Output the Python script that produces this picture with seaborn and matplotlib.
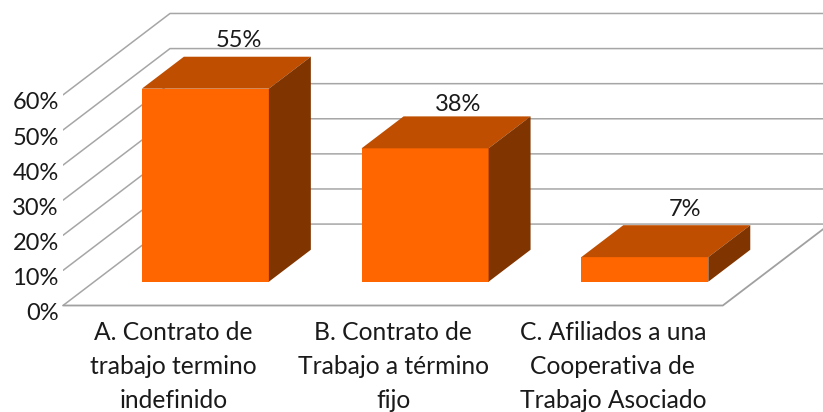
import pandas as pd
import seaborn as sns
import matplotlib.pyplot as plt
from matplotlib.patches import Polygon
from matplotlib.transforms import ScaledTranslation

categorias = ['A. Contrato de\ntrabajo termino\nindefinido',
              'B. Contrato de\nTrabajo a término\nfijo',
              'C. Afiliados a una\nCooperativa de\nTrabajo Asociado']
valores = [55, 38, 7]
etiquetas_y = [0, 10, 20, 30, 40, 50, 60]

sns.set_theme(style='white')
plt.rcParams['font.family'] = ['Lato', 'DejaVu Sans']

df = pd.DataFrame({'categoria': categorias, 'valor': valores})

fig = plt.figure(figsize=(8.23, 4.12), dpi=100)
# eje desde el piso frontal hasta los bordes de la imagen
ax = fig.add_axes([63 / 823, (412 - 305.5) / 412, 760 / 823, 305.5 / 412])

sns.barplot(data=df, x='categoria', y='valor', color='#FF6600', saturation=1,
            width=0.578, ax=ax, zorder=3, linewidth=0)
ax.set_xlim(-0.648, 2.811)
ax.set_ylim(-6.78, 80.26)

# profundidad de las barras y de la caja 3D
prof_x, prof_y = 0.191, 9.1
caja_x, caja_y = 0.487, 23.2
piso = -6.78
izq, der = -0.648, 2.355

# lineas de la pared, del lado y del piso
for v in etiquetas_y:
    y = piso + v
    ax.plot([izq, izq + caja_x, der + caja_x], [y, y + caja_y, y + caja_y],
            color='#A6A6A6', lw=1.1, zorder=1)
ax.plot([izq, der, der + caja_x], [piso, piso, piso + caja_y],
        color='#A0A0A0', lw=1.3, zorder=1, clip_on=False)

# ajuste fino de cada etiqueta de valor (en puntos)
ajustes = [(-1, 0), (-1.5, -3), (3.5, -0.5)]

# caras superior y lateral de cada barra
for barra, valor, ajuste in zip(ax.patches, valores, ajustes):
    x0 = barra.get_x()
    x1 = x0 + barra.get_width()
    ax.add_patch(Polygon([(x0, valor), (x1, valor), (x1 + prof_x, valor + prof_y),
                          (x0 + prof_x, valor + prof_y)], color='#BF4E00', lw=0, zorder=4))
    ax.add_patch(Polygon([(x1, 0), (x1, valor), (x1 + prof_x, valor + prof_y),
                          (x1 + prof_x, prof_y)], color='#803400', lw=0, zorder=4))
    ax.annotate(f'{valor}%', ((x0 + x1) / 2 + 0.16, valor + prof_y + 1.6), xytext=ajuste,
                textcoords='offset points', ha='center', va='bottom',
                fontsize=17, color='#1A1A1A')

ax.set_yticks([piso + v for v in etiquetas_y])
ax.set_yticklabels([f'{v}%' for v in etiquetas_y], fontsize=17, color='#1A1A1A')
ax.set_xticks(range(len(categorias)))
ax.set_xticklabels(categorias, fontsize=17.7, color='#1A1A1A', linespacing=1.58)
ax.tick_params(axis='x', length=0, pad=11)
ax.tick_params(axis='y', length=0, pad=3)
ax.set_xlabel('')
ax.set_ylabel('')
sns.despine(ax=ax, left=True, bottom=True)

# las etiquetas quedan corridas respecto de las marcas, como en 3D
corrimiento_x = ScaledTranslation(-32 / 100, 0, fig.dpi_scale_trans)
for t in ax.get_xticklabels():
    t.set_transform(t.get_transform() + corrimiento_x)
corrimiento_y = ScaledTranslation(0, -6 / 100, fig.dpi_scale_trans)
for t in ax.get_yticklabels():
    t.set_transform(t.get_transform() + corrimiento_y)

fig.savefig('out.png', dpi=100)
